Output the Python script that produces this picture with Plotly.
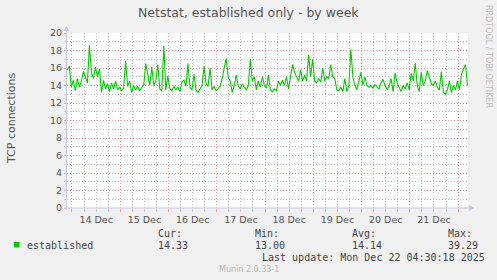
import plotly.graph_objects as go
import pandas as pd

# ---------------- data ----------------
start_time = "2025-12-13 21:40"
established = [
    15.8, 16.2, 13.8, 14.6, 13.4, 14.8, 13.8, 14.5, 15.6, 14.9,
    14.3, 18.6, 15.5, 14.8, 16.1, 15.0, 15.9, 13.2, 14.6, 13.6,
    14.2, 13.3, 14.3, 13.6, 14.5, 13.5, 13.8, 13.4, 13.7, 16.8,
    13.9, 14.5, 13.2, 14.0, 13.5, 13.9, 13.4, 13.8, 14.0, 16.5,
    15.2, 14.0, 16.1, 14.0, 14.5, 16.4, 13.6, 13.4, 18.5, 13.5,
    15.1, 13.6, 13.4, 13.9, 13.5, 13.8, 13.3, 14.4, 14.6, 13.9,
    16.5, 13.8, 13.5, 15.3, 13.5, 13.2, 13.6, 14.0, 16.2, 14.2,
    13.9, 16.0, 13.5, 13.9, 13.4, 13.7, 13.9, 14.8, 15.9, 17.1,
    15.0, 14.5, 13.2, 14.0, 15.2, 14.0, 13.6, 14.2, 13.8, 13.5,
    14.0, 17.0, 14.5, 15.0, 13.5, 14.5, 13.8, 15.0, 14.0, 13.7,
    15.2, 13.5, 13.3, 13.6, 13.4, 14.5, 14.0, 14.6, 14.0, 15.0,
    13.6, 15.2, 16.4, 15.5, 15.0, 14.5, 15.8, 14.5, 15.2, 14.5,
    17.5, 15.0, 17.0, 14.5, 14.3, 14.8, 14.4, 16.0, 14.5, 15.0,
    14.8, 16.4, 15.0, 14.8, 13.5, 13.4, 13.8, 13.3, 14.8, 13.3,
    14.0, 18.1, 15.0, 14.0, 13.5, 14.5, 15.5, 14.0, 15.0, 14.0,
    13.8, 14.0, 13.7, 14.1, 13.8, 13.6, 14.3, 14.7, 14.0, 13.5,
    13.9, 14.8, 13.3, 15.4, 14.3, 13.8, 13.3, 14.0, 13.6, 14.3,
    13.5, 15.4, 14.5, 16.6, 14.0, 13.3, 15.5, 14.0, 14.5, 15.7,
    14.8, 14.2, 14.0, 14.5, 13.8, 13.5, 15.6, 13.2, 13.0, 13.5,
    14.5, 13.2, 14.0, 13.5, 14.5, 13.5, 15.3, 15.8, 16.4, 14.0,
]
x_range = ["2025-12-13 21:31", "2025-12-22 04:55"]
y_range = [0, 20]

title_text = "Netstat, established only - by week"
y_title = "TCP connections"
series_name = "established"
stat_labels = ["Cur:", "Min:", "Avg:", "Max:"]
stat_values = ["14.33", "13.00", "14.14", "39.29"]
last_update = "Last update: Mon Dec 22 04:30:18 2025"
footer = "Munin 2.0.33-1"
watermark = "RRDTOOL / TOBI OETIKER"

times = pd.date_range(start_time, periods=len(established), freq="h")

# ---------------- geometry helpers ----------------
W, H = 497, 280
L, R, T, B = 67, 468, 33, 208
def px(x):
    return (x - L) / (R - L)
def py(y):
    return (B - y) / (B - T)

GREEN = "#00CC00"
MAJ = "#F2A0A0"
MIN = "#CCCCCC"
AXIS = "#C4C4EE"
TXT = "#555555"
DOT = "1px,2px"

fig = go.Figure()
fig.add_trace(go.Scatter(x=times, y=established, mode="lines",
                         line=dict(color=GREEN, width=1.1), hoverinfo="skip",
                         showlegend=False))

fig.update_xaxes(
    range=x_range, type="date",
    tick0="2025-12-14 00:00", dtick=86400000,
    ticklabelmode="period", tickformat="%d %b",
    showgrid=True, gridcolor=MAJ, griddash=DOT, gridwidth=1,
    ticks="outside", ticklen=3, tickcolor=MAJ,
    minor=dict(dtick=6 * 3600000, showgrid=True, gridcolor=MIN,
               griddash=DOT, ticks="outside", ticklen=3, tickcolor=MIN),
    tickfont=dict(family="DejaVu Sans", size=9.5, color=TXT),
    showline=False, zeroline=False, fixedrange=True,
)
fig.update_yaxes(
    range=y_range, dtick=2, tick0=0,
    showgrid=True, gridcolor=MAJ, griddash=DOT, gridwidth=1,
    ticks="outside", ticklen=2, tickcolor=MAJ,
    minor=dict(dtick=1, showgrid=True, gridcolor=MIN, griddash=DOT,
               ticks="outside", ticklen=2, tickcolor=MIN),
    tickfont=dict(family="DejaVu Sans", size=9.5, color=TXT),
    showline=False, zeroline=False, fixedrange=True,
)

shapes = []
# left axis with arrow
shapes.append(dict(type="line", xref="paper", yref="paper",
                   x0=px(66.5), x1=px(66.5), y0=py(210), y1=py(29),
                   line=dict(color=AXIS, width=1), layer="above"))
shapes.append(dict(type="path", xref="paper", yref="paper",
                   path=f"M {px(63.5)} {py(31)} L {px(69.5)} {py(31)} L {px(66.5)} {py(26)} Z",
                   fillcolor=AXIS, line=dict(color=AXIS, width=0), layer="above"))
# bottom axis with arrow
shapes.append(dict(type="line", xref="paper", yref="paper",
                   x0=px(64), x1=px(471), y0=py(208), y1=py(208),
                   line=dict(color=AXIS, width=1), layer="above"))
shapes.append(dict(type="path", xref="paper", yref="paper",
                   path=f"M {px(469)} {py(205)} L {px(469)} {py(211)} L {px(474)} {py(208)} Z",
                   fillcolor=AXIS, line=dict(color=AXIS, width=0), layer="above"))
# legend square
shapes.append(dict(type="rect", xref="paper", yref="paper",
                   x0=px(14), x1=px(19.5), y0=py(247.5), y1=py(242),
                   fillcolor=GREEN, line=dict(width=0)))

ann = []
def text(x, y, s, size, color, family="DejaVu Sans", xanchor="left", angle=0):
    ann.append(dict(x=px(x), y=py(y), xref="paper", yref="paper", text=s,
                    showarrow=False, xanchor=xanchor, yanchor="middle",
                    textangle=angle, borderpad=0,
                    font=dict(family=family, size=size, color=color)))

text(248.5, 13, title_text, 12.5, TXT, xanchor="center")
text(11, 119, y_title, 11, TXT, xanchor="center", angle=-90)
text(489, 56, watermark, 8, "#BEBEBE", xanchor="center", angle=90)
MONO = "DejaVu Sans Mono"
text(26, 245, series_name, 10, "#444444", family=MONO)
stat_x = [157, 254, 351, 447]
for sx, lab, val in zip(stat_x, stat_labels, stat_values):
    text(sx, 233, lab, 10, "#444444", family=MONO)
    text(sx, 245, val, 10, "#444444", family=MONO)
text(261, 257, last_update, 10, "#444444", family=MONO)
text(248.5, 269, footer, 8, "#B8B8B8", xanchor="center")

fig.update_layout(
    width=W, height=H,
    margin=dict(l=L, r=W - R, t=T, b=H - B, pad=0),
    paper_bgcolor="#F0F0F0", plot_bgcolor="#FFFFFF",
    shapes=shapes, annotations=ann,
    showlegend=False, hovermode=False,
)

fig.write_html("out.html", config=dict(displayModeBar=False, staticPlot=True))
